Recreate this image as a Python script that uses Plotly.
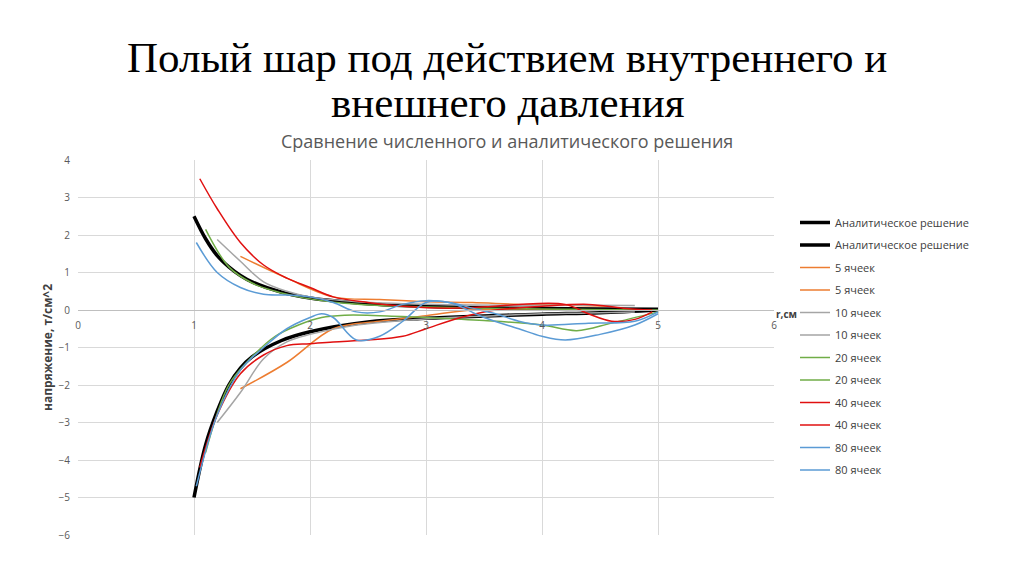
import plotly.graph_objects as go

# analytical solution
an_r = [1.0, 1.1, 1.2, 1.3, 1.4, 1.5, 1.75, 2.0, 2.5, 3.0, 3.5, 4.0, 4.5, 5.0]
an_hoop = [2.5, 1.9, 1.45, 1.15, 0.92, 0.75, 0.48, 0.32, 0.17, 0.1, 0.06, 0.04, 0.03, 0.02]
an_rad = [-5.0, -3.6, -2.7, -2.0, -1.55, -1.25, -0.82, -0.58, -0.32, -0.22, -0.16, -0.11, -0.07, 0.0]

# 5 cells
c5_r = [1.4, 1.8, 2.2, 2.6, 3.0, 3.4, 3.8, 4.2, 4.6]
c5_hoop = [1.43, 0.85, 0.35, 0.28, 0.22, 0.2, 0.15, 0.13, 0.1]
c5_rad = [-2.1, -1.4, -0.5, -0.3, -0.15, 0.0, 0.0, 0.0, 0.0]

# 10 cells
c10_r = [1.2, 1.4, 1.6, 1.8, 2.0, 2.4, 2.8, 3.2, 3.6, 4.0, 4.4, 4.8]
c10_hoop = [1.88, 1.3, 0.75, 0.5, 0.35, 0.22, 0.17, 0.14, 0.13, 0.13, 0.13, 0.12]
c10_rad = [-3.0, -2.2, -1.3, -0.85, -0.65, -0.4, -0.28, -0.2, -0.15, -0.1, -0.08, -0.05]

# 20 cells
c20_r = [1.1, 1.3, 1.5, 1.7, 1.9, 2.1, 2.3, 2.6, 3.0, 3.5, 4.0, 4.3, 4.6, 5.0]
c20_hoop = [2.15, 1.15, 0.72, 0.5, 0.35, 0.25, 0.18, 0.12, 0.08, 0.05, 0.03, 0.02, 0.01, 0.0]
c20_rad = [-3.8, -2.0, -1.25, -0.7, -0.4, -0.2, -0.14, -0.15, -0.2, -0.28, -0.4, -0.55, -0.35, -0.05]

# 40 cells
c40_r = [1.05, 1.2, 1.4, 1.6, 1.8, 2.0, 2.2, 2.5, 2.8, 3.2, 3.6, 3.8, 4.2, 4.4, 4.6, 4.8, 4.95]
c40_hoop = [3.5, 2.7, 1.8, 1.2, 0.85, 0.6, 0.35, 0.2, 0.1, 0.05, 0.1, 0.15, 0.15, -0.1, -0.3, -0.25, -0.05]
c40_rad_r = [1.05, 1.2, 1.4, 1.6, 1.8, 2.0, 2.2, 2.5, 2.8, 3.0, 3.3, 3.6, 4.0, 4.4, 4.7, 4.95]
c40_rad = [-4.2, -2.8, -1.7, -1.2, -0.95, -0.9, -0.85, -0.8, -0.7, -0.5, -0.2, 0.0, 0.1, 0.15, 0.05, 0.0]

# 80 cells
c80_r = [1.02, 1.2, 1.4, 1.6, 1.8, 2.0, 2.2, 2.4, 2.6, 2.8, 3.0, 3.2, 3.4, 3.6, 3.8, 4.0, 4.4, 4.8, 5.0]
c80_hoop = [1.8, 1.0, 0.6, 0.42, 0.4, 0.35, 0.2, -0.05, -0.05, 0.15, 0.25, 0.2, 0.05, -0.1, -0.3, -0.4, -0.35, -0.3, -0.05]
c80_rad_r = [1.02, 1.2, 1.4, 1.6, 1.8, 2.0, 2.1, 2.2, 2.4, 2.6, 2.8, 3.0, 3.2, 3.5, 3.8, 4.0, 4.2, 4.5, 4.8, 5.0]
c80_rad = [-4.7, -2.8, -1.6, -1.0, -0.5, -0.2, -0.1, -0.2, -0.8, -0.7, -0.3, 0.2, 0.2, -0.2, -0.5, -0.7, -0.8, -0.65, -0.4, -0.1]

series = [
    ("Аналитическое решение", an_r, an_hoop, "black", 3.5),
    ("Аналитическое решение", an_r, an_rad, "black", 3.5),
    ("5 ячеек", c5_r, c5_hoop, "#ed7d31", 1.5),
    ("5 ячеек", c5_r, c5_rad, "#ed7d31", 1.5),
    ("10 ячеек", c10_r, c10_hoop, "#a5a5a5", 1.5),
    ("10 ячеек", c10_r, c10_rad, "#a5a5a5", 1.5),
    ("20 ячеек", c20_r, c20_hoop, "#70ad47", 1.5),
    ("20 ячеек", c20_r, c20_rad, "#70ad47", 1.5),
    ("40 ячеек", c40_r, c40_hoop, "#e01010", 1.5),
    ("40 ячеек", c40_rad_r, c40_rad, "#e01010", 1.5),
    ("80 ячеек", c80_r, c80_hoop, "#5b9bd5", 1.5),
    ("80 ячеек", c80_rad_r, c80_rad, "#5b9bd5", 1.5),
]

fig = go.Figure()
for i, (name, x, y, col, w) in enumerate(series):
    fig.add_trace(go.Scatter(x=x, y=y, name=name, mode="lines", legendgroup=str(i),
                             line=dict(color=col, width=w, shape="spline")))

# page body has an 8px margin, so positions are shifted by it
W, H = 1024, 574
off = 8
L, R, T, B = 78 - off, 774 - off, 160 - off, 535 - off
ydom = [1 - B / H, 1 - T / H]
fig.update_layout(
    width=W, height=H, paper_bgcolor="white", plot_bgcolor="white",
    margin=dict(l=0, r=0, t=0, b=0, autoexpand=False),
    font=dict(family="Open Sans, sans-serif", color="#595959", size=10),
    xaxis=dict(domain=[L / W, R / W], range=[0, 6], dtick=1, showgrid=True,
               gridcolor="#d9d9d9", zeroline=False, anchor="free", automargin=False,
               position=ydom[0] + 0.6 * (ydom[1] - ydom[0]),
               showline=True, linecolor="#bfbfbf", ticks="outside", ticklen=6,
               tickcolor="rgba(0,0,0,0)", fixedrange=True),
    yaxis=dict(domain=ydom, range=[-6, 4], dtick=1, showgrid=True, automargin=False,
               gridcolor="#d9d9d9", zeroline=False, anchor="free", position=L / W,
               ticks="outside", ticklen=6, tickcolor="rgba(0,0,0,0)",
               title=dict(text="<b>напряжение, т/см^2</b>",
                          font=dict(size=12, color="#404040"), standoff=2)),
    legend=dict(x=(795 - off) / W, y=1 - (214 - off - 6) / H, yanchor="top",
                font=dict(size=11, color="#404040"), tracegroupgap=3.5, itemwidth=30),
    showlegend=True,
)
title_font = dict(family="Liberation Serif, serif", size=43, color="black")
for txt, cy in [("Полый шар под действием внутреннего и", 58),
                ("внешнего давления", 103)]:
    fig.add_annotation(text=txt, x=(507 - off) / W, y=1 - (cy - off) / H,
                       xref="paper", yref="paper", showarrow=False,
                       yanchor="middle", font=title_font)
fig.add_annotation(text="Сравнение численного и аналитического решения",
                   x=(507 - off) / W, y=1 - (141 - off) / H, xref="paper", yref="paper",
                   showarrow=False, yanchor="middle", font=dict(size=18, color="#595959"))
fig.add_annotation(text="<b>r,см</b>", x=(R + 12) / W, y=1 - (314 - off) / H, xref="paper",
                   yref="paper", showarrow=False, xanchor="center", yanchor="middle",
                   font=dict(size=10, color="#404040"))
fig.write_html("out.html")
